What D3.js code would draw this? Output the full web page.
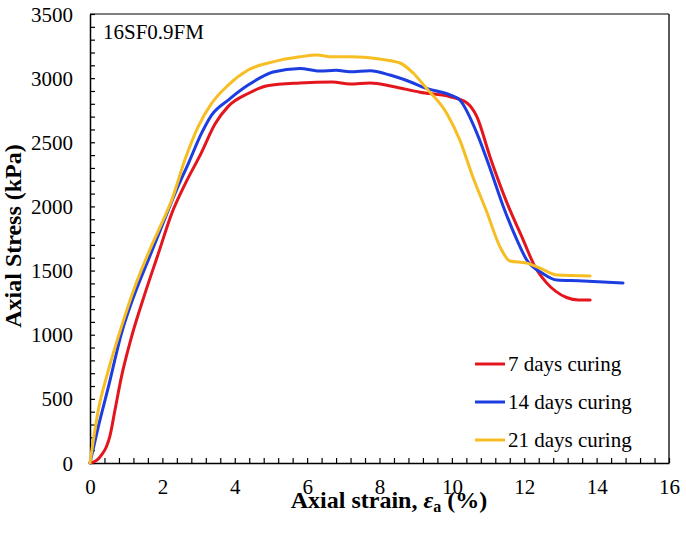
<!DOCTYPE html>
<html>
<head>
<meta charset="utf-8">
<script src="https://cdn.jsdelivr.net/npm/d3@7"></script>
<style>
  html, body { margin: 0; padding: 0; background: #fff; }
  svg { display: block; }
  text { font-family: "Liberation Serif", "Times New Roman", serif; fill: #000; }
</style>
</head>
<body>
<svg id="chart" width="686" height="533"></svg>
<script>
// ---- data (strain %, stress kPa) ----
const seriesNames = ["7 days curing", "14 days curing", "21 days curing"];
const seriesColors = ["#e3161d", "#1c3ee0", "#f6be22"];

const data7 = [
  [0,0],[0.2,25],[0.32,64],[0.45,125],[0.55,210],[0.69,413],[0.87,673],[1.15,985],
  [1.52,1322],[1.89,1634],[2.26,1946],[2.62,2170],[3.08,2420],[3.45,2640],[3.82,2780],
  [4.37,2880],[4.9,2940],[5.8,2962],[6.7,2970],[7.18,2954],[7.74,2962],[8.37,2935],
  [9.12,2890],[9.95,2855],[10.4,2810],[10.69,2700],[11.05,2390],[11.52,2030],
  [11.97,1740],[12.3,1528],[12.6,1410],[13.17,1290],[13.5,1270],[13.82,1270]
];
const data14 = [
  [0,0],[0.23,283],[0.51,595],[0.87,1011],[1.24,1322],[1.61,1582],[1.98,1842],
  [2.35,2102],[2.72,2336],[3.08,2569],[3.36,2712],[3.82,2829],[4.37,2946],[5.06,3048],
  [5.8,3076],[6.35,3055],[6.8,3062],[7.18,3050],[7.74,3058],[8.29,3024],[8.84,2972],
  [9.3,2920],[9.95,2870],[10.22,2829],[10.69,2572],[11.05,2300],[11.42,2000],
  [11.8,1738],[12.07,1582],[12.5,1480],[12.9,1426],[13.5,1420],[14.73,1403]
];
const data21 = [
  [0,0],[0.23,413],[0.51,725],[0.87,1063],[1.24,1374],[1.61,1634],[1.98,1868],
  [2.26,2050],[2.62,2362],[2.99,2622],[3.36,2803],[3.82,2946],[4.37,3063],[5.06,3127],
  [5.8,3166],[6.27,3180],[6.7,3166],[7.2,3167],[8.0,3149],[8.57,3118],[8.93,3040],
  [9.3,2920],[9.86,2725],[10.22,2517],[10.58,2230],[10.96,1960],[11.33,1685],
  [11.6,1575],[12.07,1558],[12.43,1520],[12.9,1465],[13.82,1457]
];

const xMajorTicks = [0, 2, 4, 6, 8, 10, 12, 14, 16];
const yMajorTicks = [0, 500, 1000, 1500, 2000, 2500, 3000, 3500];
const panelLabel = "16SF0.9FM";

// ---- layout ----
const svg = d3.select("#chart");
const mLeft = 90, mRight = 669, mTop = 14, mBottom = 463;

const x = d3.scaleLinear().domain([0, 16]).range([mLeft, mRight]);
const y = d3.scaleLinear().domain([0, 3500]).range([mBottom, mTop]);

// frame (top / right)
svg.append("line").attr("x1", mLeft).attr("x2", mRight).attr("y1", mTop).attr("y2", mTop)
  .attr("stroke", "#555").attr("stroke-width", 1.5);
svg.append("line").attr("x1", mRight).attr("x2", mRight).attr("y1", mTop).attr("y2", mBottom)
  .attr("stroke", "#222").attr("stroke-width", 1.5);

// x axis
const xMinor = d3.range(0, 80.5, 2).map(v => v / 5);
const xAxis = d3.axisBottom(x).tickValues(xMinor).tickSizeInner(-5).tickSizeOuter(0)
  .tickFormat(d => xMajorTicks.some(m => Math.abs(m - d) < 1e-6) ? d3.format("d")(Math.round(d)) : "");
const gx = svg.append("g").attr("transform", `translate(0,${mBottom})`).call(xAxis);
gx.select(".domain").attr("stroke", "#000").attr("stroke-width", 1.5);
gx.selectAll(".tick line").attr("stroke", "#000").attr("stroke-width", 1.2);
gx.selectAll(".tick text").attr("font-size", 21).attr("y", 31).attr("dy", 0)
  .style("font-family", "Liberation Serif");

// y axis
const yMinor = d3.range(0, 3501, 100);
const yAxis = d3.axisLeft(y).tickValues(yMinor).tickSizeInner(-5).tickSizeOuter(0)
  .tickFormat(d => yMajorTicks.includes(d) ? String(d) : "");
const gy = svg.append("g").attr("transform", `translate(${mLeft},0)`).call(yAxis);
gy.select(".domain").attr("stroke", "#000").attr("stroke-width", 1.5);
gy.selectAll(".tick line").attr("stroke", "#000").attr("stroke-width", 1.2);
gy.selectAll(".tick text").attr("font-size", 21).attr("x", -17).attr("dy", "0.34em")
  .style("font-family", "Liberation Serif");

// lines
const line = d3.line().x(d => x(d[0])).y(d => y(d[1])).curve(d3.curveMonotoneX);
const allData = [data7, data14, data21];
const plot = svg.append("g");
allData.forEach((d, i) => {
  plot.append("path").datum(d).attr("d", line)
    .attr("fill", "none").attr("stroke", seriesColors[i])
    .attr("stroke-width", 3).attr("stroke-linejoin", "round").attr("stroke-linecap", "round");
});

// panel label
svg.append("text").attr("x", 103).attr("y", 39).attr("font-size", 21).text(panelLabel);

// legend
const legY = [364, 402, 440];
seriesNames.forEach((name, i) => {
  svg.append("line").attr("x1", 475).attr("x2", 505).attr("y1", legY[i]).attr("y2", legY[i])
    .attr("stroke", seriesColors[i]).attr("stroke-width", 3);
  svg.append("text").attr("x", 508).attr("y", legY[i] + 7).attr("font-size", 21).text(name);
});

// axis titles
const xt = svg.append("text").attr("x", 389).attr("y", 508).attr("text-anchor", "middle")
  .attr("font-size", 24).attr("font-weight", "bold");
xt.append("tspan").text("Axial strain, ");
xt.append("tspan").attr("font-style", "italic").text("ε");
xt.append("tspan").attr("font-size", 16).attr("dy", 4).text("a");
xt.append("tspan").attr("dy", -4).text(" (%)");

svg.append("text").attr("transform", "translate(21,236) rotate(-90)")
  .attr("text-anchor", "middle").attr("font-size", 24).attr("font-weight", "bold")
  .text("Axial Stress (kPa)");
</script>
</body>
</html>
